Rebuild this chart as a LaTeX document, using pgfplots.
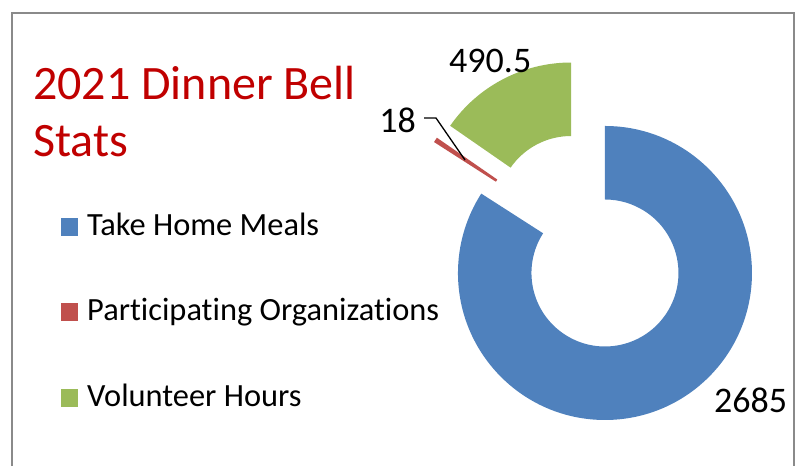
\documentclass[border=0pt]{standalone}
\usepackage{pgfplots}
\usepackage{pgfplotstable}
\pgfplotsset{compat=1.18}
\usepackage{fontspec}
\setmainfont[Ligatures=NoCommon]{Carlito}
\definecolor{tblue}{HTML}{4F81BD}
\definecolor{tred}{HTML}{C0504D}
\definecolor{tgreen}{HTML}{9BBB59}
\definecolor{ttitle}{HTML}{C00000}
\definecolor{tborder}{HTML}{8A8A8A}
\pgfplotstableread{
label value
Meals 2685
Orgs 18
Hours 490.5
}\datatable
\begin{document}
\begin{tikzpicture}
\pgfplotstablegetelem{0}{value}\of\datatable \edef\vA{\pgfplotsretval}
\pgfplotstablegetelem{1}{value}\of\datatable \edef\vB{\pgfplotsretval}
\pgfplotstablegetelem{2}{value}\of\datatable \edef\vC{\pgfplotsretval}
\pgfmathsetmacro\tot{\vA+\vB+\vC}
\pgfmathsetmacro\fA{\vA/\tot}
\pgfmathsetmacro\fB{\vB/\tot}
\pgfmathsetmacro\fC{\vC/\tot}
\pgfmathsetmacro\sA{90}
\pgfmathsetmacro\eA{90-360*\fA}
\pgfmathsetmacro\sB{\eA}
\pgfmathsetmacro\eB{\eA-360*\fB}
\pgfmathsetmacro\sC{\eB}
\pgfmathsetmacro\eC{\eB-360*\fC}
\def\cx{587.7}\def\cy{224.6}\def\dd{36}
\pgfmathsetmacro\xA{\cx+\dd*cos((\sA+\eA)/2)}
\pgfmathsetmacro\yA{\cy+\dd*sin((\sA+\eA)/2)}
\pgfmathsetmacro\xB{\cx+\dd*cos((\sB+\eB)/2)}
\pgfmathsetmacro\yB{\cy+\dd*sin((\sB+\eB)/2)}
\pgfmathsetmacro\xC{\cx+\dd*cos((\sC+\eC)/2)}
\pgfmathsetmacro\yC{\cy+\dd*sin((\sC+\eC)/2)}
\def\Ro{147pt}\def\Ri{73.5pt}\def\Rn{-73.5pt}
\begin{axis}[
  scale only axis, width=798pt, height=466pt,
  xmin=0, xmax=798, ymin=0, ymax=466,
  hide axis, clip=false,
]
\fill[tblue] (axis cs:\xA,\yA) ++(\sA:\Ro) arc[start angle=\sA, end angle=\eA, radius=\Ro] -- ++(\eA:\Rn) arc[start angle=\eA, end angle=\sA, radius=\Ri] -- cycle;
\fill[tred] (axis cs:\xB,\yB) ++(\sB:\Ro) arc[start angle=\sB, end angle=\eB, radius=\Ro] -- ++(\eB:\Rn) arc[start angle=\eB, end angle=\sB, radius=\Ri] -- cycle;
\fill[tgreen] (axis cs:\xC,\yC) ++(\sC:\Ro) arc[start angle=\sC, end angle=\eC, radius=\Ro] -- ++(\eC:\Rn) arc[start angle=\eC, end angle=\sC, radius=\Ri] -- cycle;
% border
\draw[tborder, line width=1.5pt] (axis cs:12,0) -- (axis cs:12,453) -- (axis cs:794,453) -- (axis cs:794,0);
% title
\node[anchor=base west, inner sep=0, text=ttitle, font=\fontsize{48}{58}\selectfont] at (axis cs:33,366) {2021 Dinner Bell};
\node[anchor=base west, inner sep=0, text=ttitle, font=\fontsize{48}{58}\selectfont] at (axis cs:33,309) {Stats};
% legend
\fill[tblue] (axis cs:61,230) rectangle (axis cs:78,248);
\fill[tred] (axis cs:61,145) rectangle (axis cs:78,163);
\fill[tgreen] (axis cs:61,59) rectangle (axis cs:78,77);
\node[anchor=base west, inner sep=0, font=\fontsize{32.4}{38}\selectfont] at (axis cs:87,230) {Take Home Meals};
\node[anchor=base west, inner sep=0, font=\fontsize{32.4}{38}\selectfont] at (axis cs:87,145) {Participating Organizations};
\node[anchor=base west, inner sep=0, font=\fontsize{32.4}{38}\selectfont] at (axis cs:87,59) {Volunteer Hours};
% data labels
\node[anchor=base west, inner sep=0, font=\fontsize{36}{42}\selectfont] at (axis cs:449,393) {490.5};
\node[anchor=base east, inner sep=0, font=\fontsize{36}{42}\selectfont] at (axis cs:416,333) {18};
\node[anchor=base west, inner sep=0, font=\fontsize{36}{42}\selectfont] at (axis cs:714,53) {2685};
\draw[black, line width=1.3pt] (axis cs:424,348) -- (axis cs:436,348) -- (axis cs:465,306);
\end{axis}
\pgfresetboundingbox
\path[use as bounding box] (current axis.south west) rectangle (current axis.north east);
\end{tikzpicture}
\end{document}
